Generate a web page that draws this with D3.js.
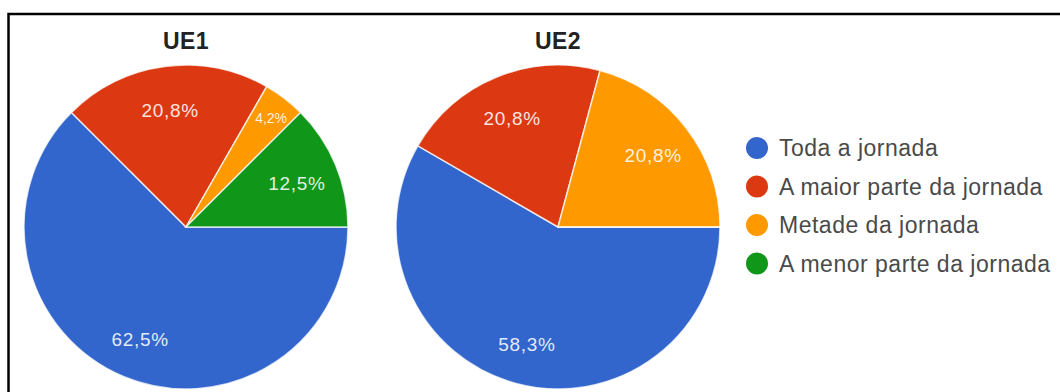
<!DOCTYPE html>
<html>
<head>
<meta charset="utf-8">
<script src="https://cdn.jsdelivr.net/npm/d3@7"></script>
<style>
  html, body { margin: 0; padding: 0; background: #fff; }
  svg { display: block; }
</style>
</head>
<body>
<svg id="chart" width="1060" height="392"></svg>
<script>
// Categories of time in the working day, shared by both pies
const categories = [
  "Toda a jornada",
  "A maior parte da jornada",
  "Metade da jornada",
  "A menor parte da jornada"
];
const colors = ["#3366cc", "#dc3912", "#ff9900", "#109618"];

// Share of answers (%) per unit
const units = ["UE1", "UE2"];
const valuesUE1 = [62.5, 20.8, 4.2, 12.5];
const valuesUE2 = [58.3, 20.8, 20.8, 0];
const seriesValues = [valuesUE1, valuesUE2];

const fmt = v => d3.format(".1f")(v).replace(".", ",") + "%";

const svg = d3.select("#chart");

// Outer frame
svg.append("rect")
  .attr("x", 8.5).attr("y", 14)
  .attr("width", 1100).attr("height", 420)
  .attr("fill", "none")
  .attr("stroke", "#000")
  .attr("stroke-width", 2.5);

const radius = 162;
const centers = [{ x: 186, y: 227 }, { x: 558, y: 227 }];

const pie = d3.pie()
  .sort(null)
  .value(d => d.value)
  .startAngle(Math.PI / 2)
  .endAngle(Math.PI / 2 + 2 * Math.PI);

const arc = d3.arc().innerRadius(0).outerRadius(radius);
const labelArc = d3.arc().innerRadius(120).outerRadius(120);
const smallLabelArc = d3.arc().innerRadius(140).outerRadius(140);

units.forEach((unit, i) => {
  const data = seriesValues[i].map((v, k) => ({ value: v, k }));
  const g = svg.append("g")
    .attr("transform", `translate(${centers[i].x},${centers[i].y})`);

  g.append("text")
    .attr("x", 0).attr("y", -178)
    .attr("text-anchor", "middle")
    .attr("font-family", "Liberation Sans, Arial, sans-serif")
    .attr("font-weight", "bold")
    .attr("font-size", 23)
    .attr("letter-spacing", 0.5)
    .attr("fill", "#222")
    .text(unit);

  const arcs = pie(data);

  g.selectAll("path.slice")
    .data(arcs)
    .join("path")
    .attr("class", "slice")
    .attr("d", arc)
    .attr("fill", d => colors[d.data.k])
    .attr("stroke", "#fff")
    .attr("stroke-opacity", 0.75)
    .attr("stroke-width", 1.5);

  g.selectAll("text.lbl")
    .data(arcs.filter(d => d.data.value > 0))
    .join("text")
    .attr("class", "lbl")
    .attr("transform", d => {
      const small = d.data.value < 5;
      const c = (small ? smallLabelArc : labelArc).centroid(d);
      return `translate(${c[0]},${c[1] + 2})`;
    })
    .attr("text-anchor", "middle")
    .attr("dominant-baseline", "central")
    .attr("font-family", "Liberation Sans, Arial, sans-serif")
    .attr("font-size", d => d.data.value < 5 ? 14 : 19)
    .attr("letter-spacing", d => d.data.value < 5 ? 0 : 0.7)
    .attr("fill", "#fff")
    .attr("fill-opacity", 0.88)
    .text(d => fmt(d.data.value));
});

// Legend
const legend = svg.append("g").attr("transform", "translate(757,148)");
const rows = legend.selectAll("g")
  .data(categories)
  .join("g")
  .attr("transform", (d, i) => `translate(0,${i * 38.5})`);

rows.append("circle")
  .attr("r", 11)
  .attr("fill", (d, i) => colors[i]);

rows.append("text")
  .attr("x", 22)
  .attr("dominant-baseline", "central")
  .attr("font-family", "Liberation Sans, Arial, sans-serif")
  .attr("font-size", 23)
  .attr("letter-spacing", 0.5)
  .attr("fill", "#4a4a4a")
  .text(d => d);
</script>
</body>
</html>
